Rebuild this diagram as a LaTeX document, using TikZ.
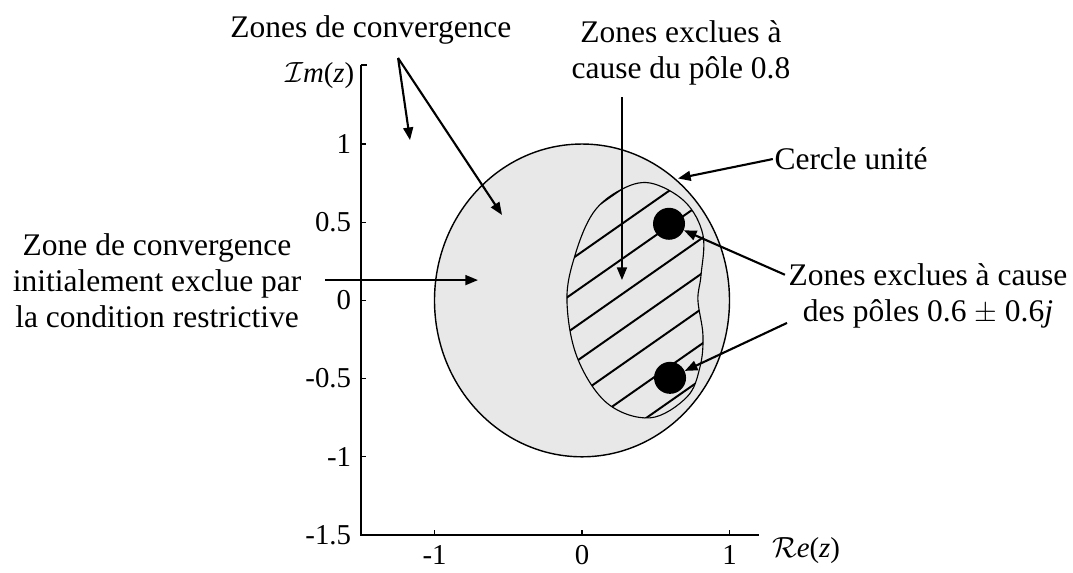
\documentclass[tikz,border=0pt]{standalone}
\usepackage{fontspec}
\setmainfont{Liberation Serif}
\usetikzlibrary{arrows.meta, positioning}
\tikzset{
    fleche/.style={-{Triangle[length=9pt,width=7pt]}, line width=1.5pt},
    etiq/.style={font=\fontsize{22.4}{25.6}\selectfont, inner sep=1pt, align=center},
    graduation/.style={font=\fontsize{20.5}{24}\selectfont, inner sep=1pt},
    zonegris/.style={fill=black!9},
    pole/.style={circle, fill=black, minimum size=0.8cm, inner sep=0pt},
}

\begin{document}
\begin{tikzpicture}[x=3.6875cm, y=3.91cm]
\useasboundingbox (-3.946,-1.737) rectangle (3.329,1.921);
% disque unite
\fill[zonegris] (0,0) ellipse [x radius=3.6875cm, y radius=3.91cm];
% zone exclue (pole 0.8)
\def\contour{plot[smooth cycle, tension=0.6] coordinates {(0.461,0.751) (0.698,0.631) (0.820,0.419) (0.807,0.162) (0.786,0.003) (0.820,-0.222) (0.800,-0.425) (0.712,-0.617) (0.461,-0.751) (0.169,-0.656) (-0.034,-0.361) (-0.102,0.003) (-0.047,0.290) (0.075,0.559) (0.258,0.705)}}
\begin{scope}
\clip \contour;
\foreach \k in {-6,...,1}
  \draw[line width=1.4pt] (-0.3,{0.113+0.225*\k}) -- (1,{0.971+0.225*\k});
\end{scope}
\draw[line width=0.8pt] \contour;
\draw[line width=1pt] (0,0) ellipse [x radius=3.6875cm, y radius=3.91cm];
% poles
\node[pole] (p1) at (0.59,0.49) {};
\node[pole] (p2) at (0.597,-0.495) {};
% axes
\draw[line width=1.3pt] (-1.5,1.505) -- (-1.5,-1.5) -- (1.2,-1.5);
\draw[line width=1.3pt] (-1.5,1.505) -- ++(0.15cm,0);
\foreach \y [count=\i] in {1,0.5,0,-0.5,-1,-1.5} {
  \draw[line width=0.8pt] (-1.5,\y) -- ++(0.12cm,0);
  \node[graduation, anchor=east, xshift=-0.2cm] (gy\i) at (-1.5,\y) {\y};
}
\foreach \x [count=\i] in {-1,0,1} {
  \draw[line width=0.8pt] (\x,-1.5) -- ++(0,0.12cm);
  \node[graduation, anchor=north, yshift=-0.22cm] (gx\i) at (\x,-1.5) {\x};
}
\node[graduation, anchor=east, xshift=-0.12cm] (im) at (-1.5,1.44) {$\mathcal{I}$\textit{m}(\textit{z})};
\node[graduation] (re) at (1.519,-1.6) {$\mathcal{R}$\textit{e}(\textit{z})};

% etiquettes
\node[etiq] (convs) at (-1.431,1.731) {Zones de convergence};
\node[etiq] (pole08) at (0.671,1.582) {Zones exclues à\\cause du pôle 0.8};
\node[etiq] (cercle) at (1.824,0.904) {Cercle unité};
\node[etiq] (poles06) at (2.346,0.031) {Zones exclues à cause\\des pôles 0.6~$\pm$~0.6\textit{j}};
\node[etiq] (conv0) at (-2.881,0.124) {Zone de convergence\\initialement exclue par\\la condition restrictive};

% fleches
\coordinate (zcs) at (-1.247,1.550);
\coordinate (zc1) at (-1.166,1.025);
\coordinate (zc2) at (-0.542,0.546);
\draw[fleche] (zcs) -- (zc1);
\draw[fleche] (zcs) -- (zc2);
\coordinate (p08a) at (0.271,1.298);
\coordinate (p08b) at (0.271,0.130);
\draw[fleche] (p08a) -- (p08b);
\coordinate (cu) at (0.651,0.780);
\draw[fleche] (cercle.west) -- (cu);
\coordinate (z6a) at (1.376,0.164);
\coordinate (z6b) at (1.390,-0.144);
\draw[fleche] (z6a) -- (p1);
\draw[fleche] (z6b) -- (p2);
\coordinate (c0a) at (-1.742,0.130);
\coordinate (c0b) at (-0.705,0.130);
\draw[fleche] (c0a) -- (c0b);
\end{tikzpicture}
\end{document}
